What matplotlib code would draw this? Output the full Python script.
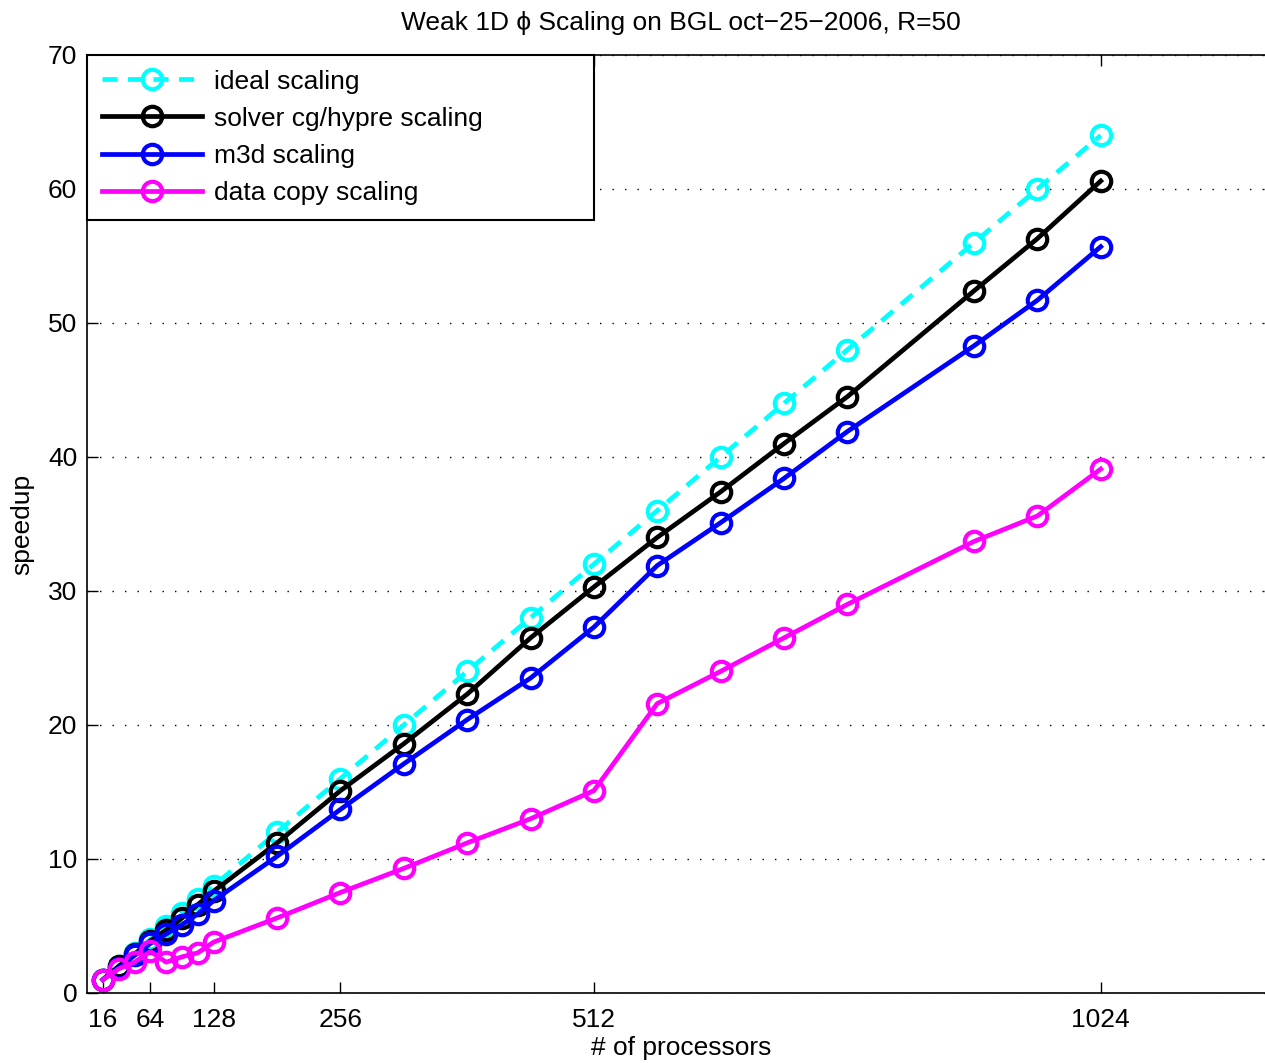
import matplotlib
matplotlib.use("Agg")
import matplotlib.pyplot as plt

plt.rcParams['font.family'] = ['Liberation Sans', 'DejaVu Sans']

procs = [16, 32, 48, 64, 80, 96, 112, 128, 192, 256, 320, 384, 448, 512,
         576, 640, 704, 768, 896, 960, 1024]
ideal = [1, 2, 3, 4, 5, 6, 7, 8, 12, 16, 20, 24, 28, 32, 36, 40, 44, 48, 56, 60, 64]
solver = [1, 2.0, 2.9, 3.9, 4.7, 5.6, 6.6, 7.6, 11.2, 15.1, 18.6, 22.3, 26.5, 30.3,
          34.0, 37.4, 41.0, 44.5, 52.4, 56.3, 60.6]
m3d = [1, 1.9, 2.8, 3.7, 4.4, 5.1, 5.9, 6.9, 10.2, 13.7, 17.1, 20.4, 23.5, 27.3,
       31.9, 35.1, 38.4, 41.9, 48.3, 51.7, 55.7]
datacopy = [1, 1.8, 2.3, 3.1, 2.3, 2.7, 3.0, 3.8, 5.6, 7.5, 9.3, 11.2, 13.0, 15.1,
            21.6, 24.0, 26.5, 29.0, 33.7, 35.6, 39.1]

xticks = [16, 64, 128, 256, 512, 1024]
yticks = [0, 10, 20, 30, 40, 50, 60, 70]

FS = 19

fig = plt.figure(figsize=(12.65, 10.63), dpi=100)
ax_w = (1275 - 87) / 1265
ax_h = (993 - 55) / 1063
ax = fig.add_axes([87/1265, 70/1063, ax_w, ax_h])

common = dict(marker='o', markerfacecolor='none', markersize=14, markeredgewidth=3,
              linewidth=3.4)
ax.plot(procs, ideal, color='#00ffff', linestyle=(0, (3.2, 2.2)), label='ideal scaling', **common)
ax.plot(procs, solver, color='black', label='solver cg/hypre scaling', **common)
ax.plot(procs, m3d, color='#0000ff', label='m3d scaling', **common)
ax.plot(procs, datacopy, color='#ff00ff', label='data copy scaling', **common)

ax.set_xlim(0, 1200)
ax.set_ylim(0, 70)
ax.set_xticks(xticks)
ax.set_yticks(yticks)
ax.tick_params(direction='in', length=8, width=1, labelsize=FS, top=True, right=True, pad=7)
ax.tick_params(axis='x', pad=11)
for s in ax.spines.values():
    s.set_linewidth(1.2)
ax.yaxis.grid(True, linestyle=(0, (1, 8)), color='black', linewidth=1)
ax.xaxis.grid(False)

ax.set_title('Weak 1D ϕ Scaling on BGL oct−25−2006, R=50', fontsize=FS, pad=18)
ax.set_xlabel('# of processors', fontsize=FS, labelpad=3)
ax.set_ylabel('speedup', fontsize=FS, labelpad=10)

leg_w = (594 - 87) / 1188
leg = ax.legend(loc='upper left', bbox_to_anchor=(0, 0, leg_w, 1), mode='expand',
                borderaxespad=0, fontsize=FS,
                handlelength=3.8, handletextpad=0.45, labelspacing=0.5, fancybox=False,
                framealpha=1, edgecolor='black', borderpad=0.55)
leg.get_frame().set_linewidth(1.5)

fig.savefig('out.png', dpi=100)
